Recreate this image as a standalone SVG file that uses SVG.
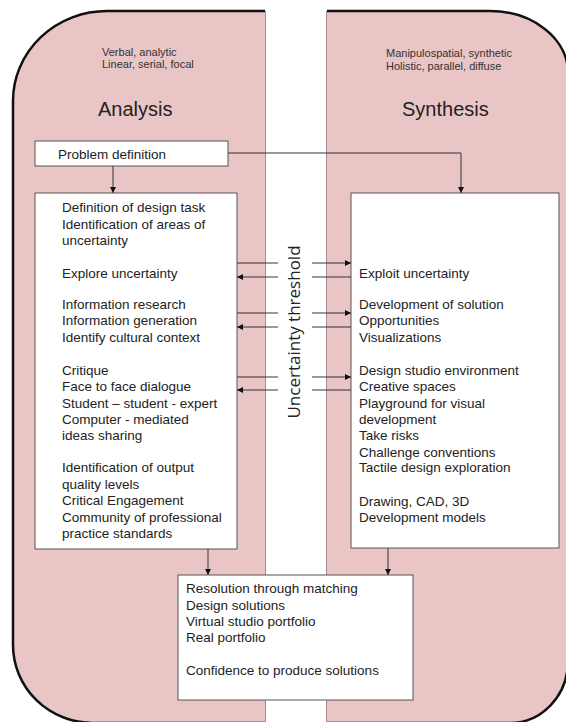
<svg xmlns="http://www.w3.org/2000/svg" width="566" height="722" viewBox="0 0 566 722">
<style>
.bg{fill:#eac5c5;stroke:none}
.edge{fill:none;stroke:#111;stroke-width:2.5}
.inner{stroke:#a08a8a;stroke-width:1;fill:none}
.box{fill:#fff;stroke:#555;stroke-width:1}
.t{font-family:"Liberation Sans",Arial,sans-serif;font-size:13.5px;fill:#222}
.s{font-family:"Liberation Sans",Arial,sans-serif;font-size:11px;fill:#333}
.h{font-family:"Liberation Sans",Arial,sans-serif;font-size:20px;fill:#222}
.v{font-family:"Open Sans","Liberation Sans",sans-serif;font-size:17px;fill:#222}
.c{fill:none;stroke:#333;stroke-width:1}
</style>
<defs>
<marker id="ah" viewBox="0 0 10 10" refX="10" refY="5" markerWidth="6" markerHeight="6" orient="auto" markerUnits="userSpaceOnUse">
<path d="M0,0 L10,5 L0,10 Z" fill="#111"/>
</marker>
</defs>

<g id="analysis-region">
<path class="bg" d="M265 11 L107 11 A94 90 0 0 0 13 101 L13 645 A80 78 0 0 0 93 723 L265 723 Z"/>
<path class="edge" d="M265 11 L107 11 A94 90 0 0 0 13 101 L13 645 A80 78 0 0 0 93 723 L265 723"/>
<line class="inner" x1="265.5" y1="11" x2="265.5" y2="722"/>
<text class="s" x="102" y="56">Verbal, analytic</text>
<text class="s" x="102" y="68">Linear, serial, focal</text>
<text class="h" x="98" y="116">Analysis</text>
</g>

<g id="synthesis-region">
<path class="bg" d="M327 11 L490 11 A78 62 0 0 1 568 73 L568 661 A58 62 0 0 1 510 723 L327 723 Z"/>
<path class="edge" d="M327 11 L490 11 A78 62 0 0 1 568 73 L568 661 A58 62 0 0 1 510 723 L327 723"/>
<line class="inner" x1="326.5" y1="11" x2="326.5" y2="722"/>
<text class="s" x="386" y="57">Manipulospatial, synthetic</text>
<text class="s" x="386" y="70">Holistic, parallel, diffuse</text>
<text class="h" x="402" y="116">Synthesis</text>
</g>

<g id="threshold">
<text class="v" transform="translate(300 332) rotate(-90)" text-anchor="middle">Uncertainty threshold</text>
</g>

<g id="problem-definition">
<rect class="box" x="35" y="141" width="193" height="25"/>
<text class="t" x="58" y="159">Problem definition</text>
</g>

<g id="analysis-box">
<rect class="box" x="35" y="193" width="202" height="356"/>
<text class="t" x="62" y="212">Definition of design task</text>
<text class="t" x="62" y="228.5">Identification of areas of</text>
<text class="t" x="62" y="244.5">uncertainty</text>
<text class="t" x="62" y="278">Explore uncertainty</text>
<text class="t" x="62" y="308.5">Information research</text>
<text class="t" x="62" y="325">Information generation</text>
<text class="t" x="62" y="341.5">Identify cultural context</text>
<text class="t" x="62" y="375">Critique</text>
<text class="t" x="62" y="391">Face to face dialogue</text>
<text class="t" x="62" y="407.5">Student – student - expert</text>
<text class="t" x="62" y="424">Computer - mediated</text>
<text class="t" x="62" y="440">ideas sharing</text>
<text class="t" x="62" y="472">Identification of output</text>
<text class="t" x="62" y="488.5">quality levels</text>
<text class="t" x="62" y="505">Critical Engagement</text>
<text class="t" x="62" y="521.5">Community of professional</text>
<text class="t" x="62" y="538">practice standards</text>
</g>

<g id="synthesis-box">
<rect class="box" x="351" y="193" width="208" height="355"/>
<text class="t" x="359" y="278">Exploit uncertainty</text>
<text class="t" x="359" y="308.5">Development of solution</text>
<text class="t" x="359" y="325">Opportunities</text>
<text class="t" x="359" y="341.5">Visualizations</text>
<text class="t" x="359" y="375">Design studio environment</text>
<text class="t" x="359" y="391">Creative spaces</text>
<text class="t" x="359" y="407.5">Playground for visual</text>
<text class="t" x="359" y="423.5">development</text>
<text class="t" x="359" y="440">Take risks</text>
<text class="t" x="359" y="456.5">Challenge conventions</text>
<text class="t" x="359" y="472">Tactile design exploration</text>
<text class="t" x="359" y="506">Drawing, CAD, 3D</text>
<text class="t" x="359" y="522">Development models</text>
</g>

<g id="resolution-box">
<rect class="box" x="178" y="575" width="235" height="125"/>
<text class="t" x="186" y="593">Resolution through matching</text>
<text class="t" x="186" y="609.5">Design solutions</text>
<text class="t" x="186" y="626">Virtual studio portfolio</text>
<text class="t" x="186" y="642">Real portfolio</text>
<text class="t" x="186" y="675">Confidence to produce solutions</text>
</g>

<g id="connectors">
<line class="c" x1="113" y1="166" x2="113" y2="193" marker-end="url(#ah)"/>
<polyline class="c" points="228,153 461,153 461,193" marker-end="url(#ah)"/>
<line class="c" x1="208" y1="549" x2="208" y2="575" marker-end="url(#ah)"/>
<line class="c" x1="388" y1="548" x2="388" y2="575" marker-end="url(#ah)"/>

<line class="c" x1="278" y1="263" x2="237" y2="263"/>
<line class="c" x1="278" y1="277" x2="237" y2="277" marker-end="url(#ah)"/>
<line class="c" x1="312" y1="263" x2="351" y2="263" marker-end="url(#ah)"/>
<line class="c" x1="312" y1="277" x2="351" y2="277"/>

<line class="c" x1="278" y1="313" x2="237" y2="313"/>
<line class="c" x1="278" y1="327" x2="237" y2="327" marker-end="url(#ah)"/>
<line class="c" x1="312" y1="313" x2="351" y2="313" marker-end="url(#ah)"/>
<line class="c" x1="312" y1="327" x2="351" y2="327"/>

<line class="c" x1="278" y1="377" x2="237" y2="377"/>
<line class="c" x1="278" y1="390" x2="237" y2="390" marker-end="url(#ah)"/>
<line class="c" x1="312" y1="377" x2="351" y2="377" marker-end="url(#ah)"/>
<line class="c" x1="312" y1="390" x2="351" y2="390"/>
</g>
</svg>
